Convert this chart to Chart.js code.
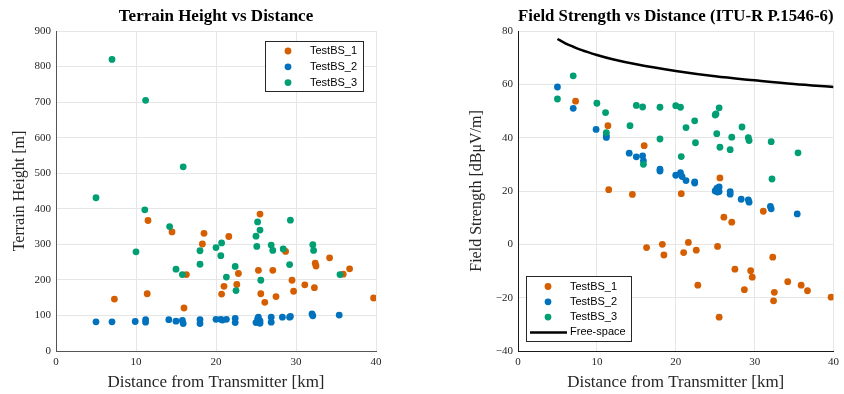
<!DOCTYPE html>
<html>
<head>
<meta charset="utf-8">
<script src="https://cdn.jsdelivr.net/npm/chart.js@4.4.0/dist/chart.umd.min.js"></script>
<style>
  html, body { margin: 0; padding: 0; background: #fff; }
  #wrap { position: relative; width: 844px; height: 394px; }
  .pane { position: absolute; top: 0; width: 422px; height: 394px; }
</style>
</head>
<body>
<div id="wrap">
  <div class="pane" style="left:0"><canvas id="terrain"></canvas></div>
  <div class="pane" style="left:422px"><canvas id="field"></canvas></div>
</div>
<script>
// Receiver distances [km], terrain heights [m] and field strengths [dBuV/m] per station
const bs1Dist = [7.3, 11.4, 11.5, 14.5, 16.0, 16.3, 18.3, 18.5, 20.7, 21.0, 21.6, 22.6, 22.8, 25.3, 25.5,
  25.6, 26.1, 27.1, 27.5, 28.7, 29.5, 29.7, 31.1, 32.3, 32.4, 32.5, 34.2, 35.9, 36.7, 39.7];
const bs1Terrain = [146, 161, 367, 335, 121, 215, 301, 331, 160, 182, 322, 187, 218, 227, 385,
  161, 137, 227, 153, 280, 199, 168, 186, 178, 247, 239, 262, 216, 231, 149];
const bs1Field = [53.7, 44.5, 20.5, 18.7, 37.0, -1.2, 0.0, -4.0, 19.0, -3.1, 0.7, -2.2, -15.3, -0.8, -27.3,
  24.9, 10.2, 8.3, -9.3, -17.0, -9.9, -12.3, 12.4, -4.8, -21.2, -18.0, -14.0, -15.3, -17.4, -19.8];

const bs2Dist = [5.0, 7.0, 9.9, 11.2, 11.2, 14.1, 15.0, 15.8, 15.9, 18.0, 18.0, 20.0, 20.6, 20.8, 21.3,
  22.4, 22.4, 25.0, 25.2, 25.3, 25.5, 25.5, 26.9, 26.9, 28.3, 29.2, 29.3, 32.0, 32.1, 35.4];
const bs2Terrain = [82, 82, 83, 88, 81, 88, 84, 86, 77, 88, 77, 89, 89, 87, 89,
  92, 80, 80, 90, 95, 85, 78, 95, 81, 95, 95, 97, 104, 99, 101];
const bs2Field = [59.0, 51.0, 43.1, 40.1, 40.8, 34.2, 32.8, 33.2, 31.3, 28.2, 27.5, 25.9, 26.9, 25.4, 23.9,
  23.4, 23.0, 20.0, 21.0, 19.6, 21.5, 19.8, 19.8, 18.8, 16.9, 16.7, 15.8, 14.2, 13.3, 11.4];

const bs3Dist = [5.0, 7.0, 10.0, 11.1, 11.2, 14.2, 15.0, 15.8, 15.9, 18.0, 18.0, 20.0, 20.6, 20.7, 21.3,
  22.4, 22.5, 25.0, 25.1, 25.2, 25.5, 25.6, 26.9, 27.1, 28.4, 29.2, 29.3, 32.1, 32.2, 35.5];
const bs3Terrain = [431, 820, 279, 397, 705, 350, 230, 215, 518, 282, 244, 291, 268, 304, 208,
  238, 170, 323, 294, 363, 340, 199, 298, 283, 287, 243, 368, 299, 283, 215];
const bs3Field = [54.5, 63.2, 52.9, 49.4, 41.9, 44.5, 52.1, 51.5, 30.0, 51.4, 39.5, 52.0, 51.4, 32.9, 43.8,
  46.3, 38.1, 48.5, 48.9, 41.5, 51.2, 36.4, 35.5, 40.2, 44.0, 40.0, 38.9, 38.5, 24.5, 34.3];

// Free-space reference curve
const freeDist = [5, 6, 7, 8, 10, 12, 15, 20, 25, 30, 35, 40];
const freeField = [77, 75.4, 74.1, 72.9, 71, 69.4, 67.5, 65, 63, 61.5, 60.1, 59];

const stationNames = ["TestBS_1", "TestBS_2", "TestBS_3"];
const stationColors = ["#d55e00", "#0072bd", "#009e73"];

const serif = "'Liberation Serif', 'Times New Roman', serif";
const sans = "'Liberation Sans', Arial, sans-serif";
const tickColor = "#262626";
const gridColor = "#e6e6e6";

function zipPoints(xs, ys) {
  return xs.map((x, i) => ({ x, y: ys[i] }));
}

function stationDatasets(series) {
  return series.map((values, i) => ({
    label: stationNames[i],
    data: values,
    backgroundColor: stationColors[i],
    borderColor: stationColors[i],
    borderWidth: 0,
    pointRadius: 3.4,
    order: 3 - i,
  }));
}

// Legend box drawn inside the plot area, like the MATLAB one
const boxLegend = {
  id: "boxLegend",
  afterDraw(chart, args, opts) {
    const { ctx } = chart;
    ctx.save();
    ctx.fillStyle = "#fff";
    ctx.fillRect(opts.x, opts.y, opts.width, opts.height);
    ctx.strokeStyle = "#262626";
    ctx.lineWidth = 1;
    ctx.strokeRect(opts.x + 0.5, opts.y + 0.5, opts.width, opts.height);
    ctx.font = `11px ${sans}`;
    ctx.textAlign = "left";
    ctx.textBaseline = "middle";

    chart.data.datasets.forEach((ds, i) => {
      const cy = opts.y + opts.firstRow + i * opts.rowHeight;
      if (ds.showLine) {
        ctx.strokeStyle = ds.borderColor;
        ctx.lineWidth = ds.borderWidth;
        ctx.beginPath();
        ctx.moveTo(opts.x + 4, cy);
        ctx.lineTo(opts.x + 41, cy);
        ctx.stroke();
      } else {
        ctx.fillStyle = ds.backgroundColor;
        ctx.beginPath();
        ctx.arc(opts.x + opts.markerX, cy, 3.4, 0, Math.PI * 2);
        ctx.fill();
      }
      ctx.fillStyle = "#000";
      ctx.fillText(ds.label, opts.x + opts.textX, cy);
    });
    ctx.restore();
  },
};

function makeChart(canvasId, cfg) {
  const ctx = document.getElementById(canvasId).getContext("2d");
  return new Chart(ctx, {
    type: "scatter",
    data: { datasets: cfg.datasets },
    plugins: [boxLegend],
    options: {
      responsive: true,
      maintainAspectRatio: false,
      animation: false,
      events: [],
      layout: { padding: { top: 0, right: cfg.padRight, bottom: 0, left: 0 } },
      plugins: {
        legend: { display: false },
        tooltip: { enabled: false },
        title: {
          display: true,
          text: cfg.title,
          fullSize: false,
          color: "#000",
          font: { family: serif, size: 17, weight: "bold" },
          padding: { top: 6, bottom: 4.6 },
        },
        boxLegend: cfg.legend,
      },
      scales: {
        x: {
          type: "linear",
          min: 0,
          max: 40,
          ticks: { stepSize: 10, color: tickColor, font: { family: serif, size: 11 }, padding: 5 },
          grid: { color: gridColor, drawTicks: false },
          border: { color: cfg.axisColor, width: 1 },
          title: {
            display: true,
            text: "Distance from Transmitter [km]",
            color: tickColor,
            font: { family: serif, size: 17 },
            padding: { top: 2, bottom: 1 },
          },
          afterFit(scale) { scale.height = 43; },
        },
        y: {
          min: cfg.yMin,
          max: cfg.yMax,
          ticks: {
            stepSize: cfg.yStep,
            color: tickColor,
            font: { family: serif, size: 11 },
            padding: 5,
            callback: (v) => (v < 0 ? "\u2212" + Math.abs(v) : v),
          },
          grid: { color: gridColor, drawTicks: false },
          border: { color: cfg.axisColor, width: 1 },
          title: {
            display: true,
            text: cfg.yTitle,
            color: tickColor,
            font: { family: serif, size: 16 },
            padding: { top: cfg.yTitlePad, bottom: 0 },
          },
          afterFit(scale) { scale.width = cfg.yWidth; },
        },
      },
    },
  });
}

makeChart("terrain", {
  title: "Terrain Height vs Distance",
  datasets: stationDatasets([
    zipPoints(bs1Dist, bs1Terrain),
    zipPoints(bs2Dist, bs2Terrain),
    zipPoints(bs3Dist, bs3Terrain),
  ]),
  yMin: 0, yMax: 900, yStep: 100,
  yTitle: "Terrain Height [m]",
  yTitlePad: 10,
  yWidth: 56,
  padRight: 46,
  axisColor: "#555",
  legend: { x: 265, y: 41, width: 98, height: 50, firstRow: 10, rowHeight: 15.8, markerX: 23, textX: 45 },
});

const fieldSets = stationDatasets([
  zipPoints(bs1Dist, bs1Field),
  zipPoints(bs2Dist, bs2Field),
  zipPoints(bs3Dist, bs3Field),
]);
fieldSets.push({
  label: "Free-space",
  data: zipPoints(freeDist, freeField),
  showLine: true,
  borderColor: "#000",
  backgroundColor: "#000",
  borderWidth: 2.5,
  pointRadius: 0,
  cubicInterpolationMode: "monotone",
  order: 0,
});

makeChart("field", {
  title: "Field Strength vs Distance (ITU-R P.1546-6)",
  datasets: fieldSets,
  yMin: -40, yMax: 80, yStep: 20,
  yTitle: "Field Strength [dB\u03BCV/m]",
  yTitlePad: 45,
  yWidth: 96,
  padRight: 6,
  axisColor: "#1a1a1a",
  legend: { x: 104, y: 276, width: 105, height: 65, firstRow: 10.5, rowHeight: 15.3, markerX: 22, textX: 44 },
});
</script>
</body>
</html>
